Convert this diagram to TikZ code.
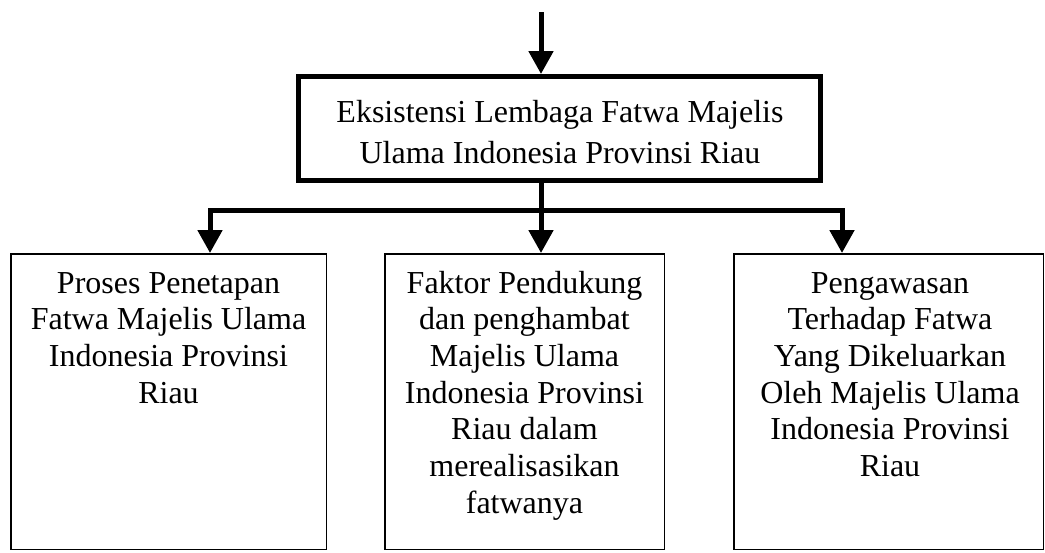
\documentclass[tikz,border=0pt]{standalone}
\usepackage{fontspec}
\setmainfont{Liberation Serif}
\usetikzlibrary{arrows.meta}
\begin{document}
\begin{tikzpicture}[x=1pt,y=-1pt,
  topbox/.style={draw=black, line width=5pt, fill=white, inner sep=0pt,
    minimum width=522pt, minimum height=104pt},
  botbox/.style={draw=black, line width=1.5pt, inner sep=0pt, minimum height=295.5pt},
  toptext/.style={anchor=base, inner sep=0pt, font=\fontsize{32pt}{41pt}\selectfont},
  btext/.style={anchor=base, inner sep=0pt, font=\fontsize{32pt}{36.7pt}\selectfont},
  conn/.style={line width=5pt, line join=miter, draw=black},
  tip/.style={-{Triangle[length=23pt,width=24pt]}}
]
\useasboundingbox (0,0) rectangle (1045,552);

\node[topbox] (top) at (559.5,128.5) {};
\node[toptext] (tt) at (560,122) {\parbox[t]{500pt}{\centering Eksistensi Lembaga Fatwa Majelis\\Ulama Indonesia Provinsi Riau}};

\node[botbox, minimum width=315.5pt] (b1) at (168.5,401.5) {};
\node[botbox, minimum width=279.5pt] (b2) at (524.5,401.5) {};
\node[botbox, minimum width=309.5pt] (b3) at (888.5,401.5) {};

\node[btext] (t1) at (168.5,293) {\parbox[t]{300pt}{\centering Proses Penetapan\\Fatwa Majelis Ulama\\Indonesia Provinsi\\Riau}};
\node[btext] (t2) at (524.5,293) {\parbox[t]{270pt}{\centering Faktor Pendukung\\dan penghambat\\Majelis Ulama\\Indonesia Provinsi\\Riau dalam\\merealisasikan\\fatwanya}};
\node[btext] (t3) at (890,293) {\parbox[t]{300pt}{\centering Pengawasan\\Terhadap Fatwa\\Yang Dikeluarkan\\Oleh Majelis Ulama\\Indonesia Provinsi\\Riau}};

\coordinate (start) at (541,12);
\coordinate (hL) at (210,210);
\coordinate (hM) at (541,210);
\coordinate (hR) at (842,210);

\draw[conn,tip] (start) -- (top.north -| start);
\draw[conn,tip] (top.south -| hM) -- (hM |- b2.north);
\draw[conn,tip] (hM) -- (hL) -- (hL |- b1.north);
\draw[conn,tip] (hM) -- (hR) -- (hR |- b3.north);
\end{tikzpicture}
\end{document}
